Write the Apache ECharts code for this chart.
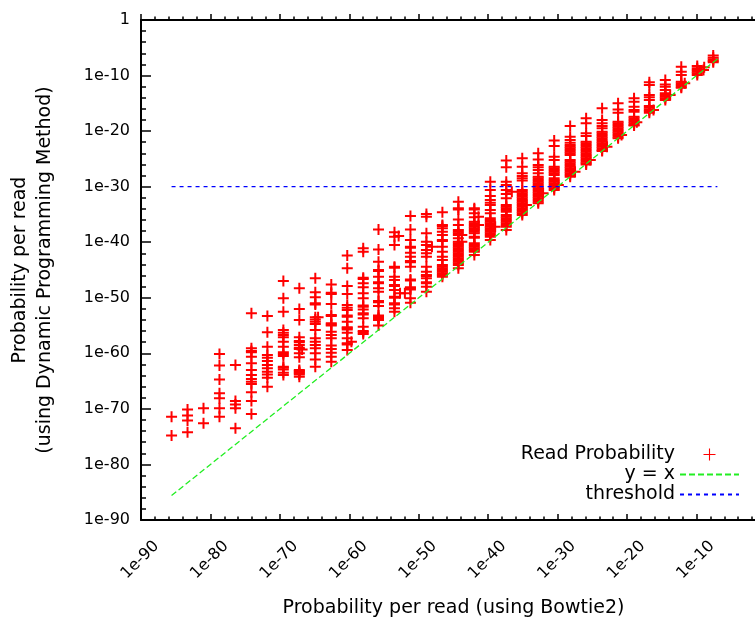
<!DOCTYPE html>
<html><head><meta charset="utf-8">
<script src="https://cdn.jsdelivr.net/npm/echarts@6/dist/echarts.min.js"></script>
<style>html,body{margin:0;padding:0;background:#fff}#c{width:755px;height:617px}</style>
</head><body><div id="c"></div>
<script>
// log10 of probability per read (Bowtie2) for each column of reads
const columnLog10X = [-85.6, -83.3, -81.0, -78.7, -76.4, -74.1, -71.8, -69.5, -67.2, -64.9,
  -62.6, -60.3, -58.0, -55.8, -53.5, -51.2, -48.9, -46.6, -44.3, -42.0,
  -39.7, -37.4, -35.1, -32.8, -30.5, -28.2, -25.9, -23.6, -21.3, -19.0,
  -16.8, -14.5, -12.2, -9.9, -7.6];
// log10 of probability per read (dynamic programming) for the reads of each column
const columnLog10Y = [
  [-71.4, -74.8],
  [-70.1, -71.2, -72.1, -74.2],
  [-69.9, -72.6],
  [-60.1, -62.2, -64.7, -67.2, -68.1, -69.9, -71.4],
  [-62.1, -68.6, -69.2, -69.9, -73.5],
  [-52.8, -59.1, -59.6, -59.8, -60.6, -61.8, -63.0, -63.9, -64.6, -65.1, -65.5, -67.0, -68.6, -70.9],
  [-53.3, -56.2, -58.8, -60.3, -60.8, -61.4, -62.1, -62.7, -63.3, -63.8, -64.4, -66.0],
  [-47.0, -50.1, -52.5, -55.8, -56.3, -56.7, -57.1, -57.9, -58.8, -59.8, -60.1, -60.5, -62.4, -62.6, -62.9, -63.5, -63.9],
  [-48.3, -52.0, -54.0, -57.1, -57.8, -58.0, -58.5, -59.0, -59.2, -60.0, -60.7, -63.0, -63.2, -63.4, -63.6, -63.8, -64.2],
  [-46.5, -49.0, -49.9, -51.0, -51.2, -53.5, -53.9, -54.3, -54.7, -55.8, -57.3, -57.9, -58.5, -59.1, -60.0, -61.1, -62.4],
  [-47.6, -49.1, -49.3, -51.1, -53.1, -53.3, -54.6, -54.8, -55.0, -56.1, -56.7, -57.3, -58.6, -59.2, -59.9, -60.6, -61.5],
  [-42.4, -44.7, -47.9, -49.3, -51.3, -51.8, -52.2, -53.2, -53.4, -54.3, -55.3, -55.5, -55.7, -56.3, -57.3, -58.2, -58.4, -59.4],
  [-41.1, -41.7, -46.4, -46.6, -47.4, -48.1, -49.2, -50.1, -51.4, -51.6, -52.1, -52.8, -53.0, -53.7, -55.2, -56.0, -56.2, -56.5],
  [-37.7, -41.3, -43.5, -45.0, -45.2, -46.2, -47.2, -47.4, -48.3, -48.9, -50.6, -50.8, -51.5, -53.2, -53.4, -53.6, -53.8, -54.0, -55.0],
  [-38.2, -39.0, -40.5, -44.4, -44.6, -46.2, -46.8, -47.7, -47.9, -48.6, -49.8, -50.0, -51.0, -51.2, -51.9, -52.5],
  [-35.3, -37.7, -39.6, -40.8, -41.0, -41.9, -42.6, -43.4, -43.6, -44.4, -46.7, -46.9, -48.1, -48.3, -48.5, -50.1, -50.9],
  [-34.9, -35.4, -38.4, -39.9, -40.5, -41.4, -42.0, -42.6, -44.4, -45.3, -45.9, -46.1, -46.5, -47.2, -47.4, -48.0, -48.9],
  [-34.6, -36.9, -37.1, -37.5, -38.1, -38.7, -39.6, -39.8, -40.8, -41.7, -42.6, -43.2, -44.1, -44.4, -44.7, -45.0, -45.3, -45.6, -45.9, -46.2],
  [-32.7, -33.9, -34.1, -35.9, -36.9, -37.8, -38.1, -38.4, -38.7, -39.3, -39.9, -40.2, -40.5, -40.8, -41.1, -41.4, -41.7, -42.0, -42.3, -42.6, -42.9, -43.2, -43.5, -43.8, -44.1, -44.7],
  [-33.9, -34.1, -34.8, -35.5, -36.3, -36.6, -36.9, -37.2, -37.5, -37.8, -38.1, -38.4, -39.0, -39.2, -40.2, -40.5, -40.8, -41.1, -41.4, -41.7, -42.3],
  [-29.1, -30.6, -31.7, -32.4, -32.9, -33.3, -34.2, -34.8, -35.7, -36.0, -36.3, -36.6, -36.9, -37.2, -37.5, -37.8, -38.1, -38.4, -38.7, -39.0, -39.6],
  [-25.3, -26.5, -29.1, -29.7, -30.6, -31.3, -32.1, -33.3, -33.6, -33.9, -34.2, -34.5, -35.1, -35.4, -35.7, -36.0, -36.3, -36.6, -36.9, -37.2, -37.8],
  [-24.9, -26.4, -27.6, -28.1, -28.5, -28.9, -30.6, -30.9, -31.2, -31.5, -31.8, -32.1, -32.4, -32.7, -33.0, -33.3, -33.6, -33.9, -34.2, -34.5, -34.8, -35.1],
  [-24.0, -25.1, -26.1, -26.5, -27.0, -27.6, -28.2, -28.5, -28.8, -29.1, -29.4, -29.7, -30.0, -30.3, -30.6, -30.9, -31.2, -31.5, -31.8, -32.1, -32.4, -32.7, -33.0],
  [-21.7, -22.7, -24.6, -25.2, -26.4, -26.7, -27.0, -27.3, -27.6, -27.9, -28.5, -28.8, -29.1, -29.4, -29.7, -30.0, -30.3, -30.6],
  [-19.1, -21.0, -21.6, -22.1, -22.5, -22.8, -23.1, -23.4, -23.7, -24.0, -24.3, -25.2, -25.5, -25.8, -26.1, -26.4, -26.7, -27.0, -27.3, -27.6, -27.9, -28.2],
  [-17.7, -18.6, -20.4, -20.9, -21.9, -22.2, -22.5, -22.8, -23.1, -23.4, -23.7, -24.0, -24.3, -24.6, -24.9, -25.2, -25.5, -25.8, -26.0],
  [-15.9, -18.0, -18.6, -19.1, -19.5, -20.1, -20.4, -20.7, -21.0, -21.3, -21.6, -21.9, -22.2, -22.5, -22.8, -23.1, -23.4, -23.6],
  [-15.0, -16.1, -16.7, -18.3, -18.6, -18.9, -19.2, -19.5, -19.8, -20.1, -20.4, -20.7, -21.0, -21.3],
  [-14.1, -14.7, -15.6, -16.2, -16.5, -17.4, -17.7, -18.0, -18.3, -18.6, -18.9, -19.0],
  [-11.2, -11.7, -13.5, -13.9, -14.4, -15.5, -15.8, -16.1, -16.4, -16.7],
  [-10.8, -11.6, -12.0, -12.6, -13.2, -13.5, -13.8, -14.1, -14.4],
  [-8.4, -9.3, -9.9, -11.1, -11.4, -11.7, -12.0, -12.2],
  [-8.3, -8.7, -9.0, -9.3, -9.6, -9.9],
  [-6.4, -6.8, -7.1, -7.4, -7.6]
];
// reads lying slightly off the main columns [log10 x, log10 y]
const offColumnPoints = [[-66.8, -59.3], [-64.5, -53.5], [-59.7, -57.9], [-52.9, -38.9], [-52.7, -49.2],
  [-52.0, -49.2], [-48.1, -40.8], [-43.8, -38.7], [-43.8, -39.9], [-41.4, -35.4], [-41.4, -36.9],
  [-39.0, -37.2], [-36.6, -30.9], [-34.5, -33.3], [-32.1, -31.2], [-29.9, -29.7], [-27.5, -27.3],
  [-25.3, -25.2], [-22.9, -22.8], [-20.8, -20.7], [-18.6, -18.4], [-16.2, -16.2], [-13.8, -13.5],
  [-11.7, -11.4], [-9.0, -9.0], [-8.9, -8.5]];
const lineRangeLog10 = [-85.6, -7.0];
const thresholdLog10 = -30;
const tickValues = [-90, -80, -70, -60, -50, -40, -30, -20, -10, 0];
const tickLabels = ['1e-90', '1e-80', '1e-70', '1e-60', '1e-50', '1e-40', '1e-30', '1e-20', '1e-10', '1'];

const FONT = 'DejaVu Sans';
const readPoints = [];
columnLog10X.forEach((x, i) => columnLog10Y[i].forEach(y => readPoints.push([x, y])));
offColumnPoints.forEach(p => readPoints.push(p));

const fmt = v => { const i = tickValues.indexOf(Math.round(v)); return i >= 0 ? tickLabels[i] : ''; };
const plusPath = 'path://M0,4.5H11V6.5H0Z M4.5,0H6.5V11H4.5Z';

const axisCommon = {
  type: 'value', min: -90, max: 0, interval: 10,
  splitLine: { show: false },
  axisLine: { show: true, onZero: false, lineStyle: { color: '#000', width: 2 } },
  minorTick: { show: true, splitNumber: 5, length: 3.5, lineStyle: { color: '#000', width: 1.5 } },
  axisTick: { show: true, inside: true, length: 6, lineStyle: { color: '#000', width: 1.5 } }
};

const chart = echarts.init(document.getElementById('c'));
chart.setOption({
  animation: false,
  backgroundColor: '#fff',
  grid: { left: 141, top: 20, width: 625, height: 500, containLabel: false, outerBoundsMode: 'none' },
  xAxis: [
    Object.assign({}, axisCommon, {
      position: 'bottom',
      name: 'Probability per read (using Bowtie2)',
      nameLocation: 'middle', nameGap: 85,
      nameTextStyle: { fontFamily: FONT, fontSize: 19, color: '#000', verticalAlign: 'middle' },
      axisLabel: { formatter: fmt, rotate: 45, margin: 8, fontFamily: FONT, fontSize: 16, color: '#000',
        verticalAlign: 'top', lineHeight: 44 }
    }),
    Object.assign({}, axisCommon, {
      position: 'top',
      axisTick: { show: true, inside: false, length: 6, lineStyle: { color: '#000', width: 1.5 } },
      minorTick: { show: true, splitNumber: 5, length: 3.5, lineStyle: { color: '#000', width: 1.5 } },
      axisLabel: { show: false }
    })
  ],
  yAxis: Object.assign({}, axisCommon, {
    name: 'Probability per read\n(using Dynamic Programming Method)',
    nameLocation: 'middle', nameGap: 108, nameRotate: 90,
    nameTextStyle: { fontFamily: FONT, fontSize: 19, color: '#000', lineHeight: 25, verticalAlign: 'middle', align: 'center' },
    axisTick: { show: true, inside: true, length: 10, lineStyle: { color: '#000', width: 1.5 } },
    minorTick: { show: true, splitNumber: 5, length: 5, lineStyle: { color: '#000', width: 1.5 } },
    axisLabel: { formatter: fmt, margin: 11, fontFamily: FONT, fontSize: 16, color: '#000' }
  }),
  legend: {
    orient: 'vertical', right: 15, top: 445, align: 'right', padding: 0,
    itemWidth: 59, itemHeight: 12, itemGap: 1, selectedMode: false,
    textStyle: { fontFamily: FONT, fontSize: 19, color: '#000' },
    data: [
      { name: 'Read Probability', icon: 'path://M0,5H11V6H0Z M5,0H6V11H5Z' },
      { name: 'y = x', itemStyle: { opacity: 0 } },
      { name: 'threshold', itemStyle: { opacity: 0 } }
    ]
  },
  series: [
    {
      name: 'Read Probability', type: 'scatter', data: readPoints,
      symbol: plusPath, symbolSize: 11, symbolKeepAspect: true,
      itemStyle: { color: '#ff0000', opacity: 1 }, z: 2
    },
    {
      name: 'y = x', type: 'line', symbol: 'none', z: 3,
      data: [[lineRangeLog10[0], lineRangeLog10[0]], [lineRangeLog10[1], lineRangeLog10[1]]],
      lineStyle: { color: '#22ee22', width: 1.3, type: [6, 3] },
      itemStyle: { color: '#22ee22' }
    },
    {
      name: 'threshold', type: 'line', symbol: 'none', z: 3,
      data: [[lineRangeLog10[0], thresholdLog10], [lineRangeLog10[1], thresholdLog10]],
      lineStyle: { color: '#0000ff', width: 1.2, type: [4, 4] },
      itemStyle: { color: '#0000ff' }
    }
  ]
});
</script></body></html>
